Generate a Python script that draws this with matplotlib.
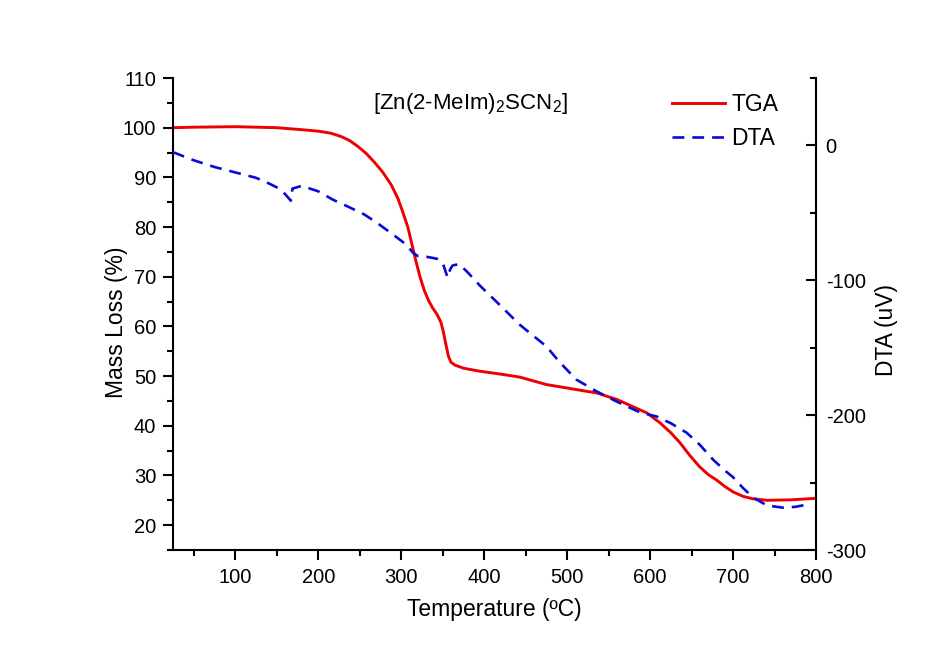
import matplotlib
matplotlib.use("Agg")
import matplotlib.pyplot as plt
from matplotlib.ticker import MultipleLocator

plt.rcParams['font.family'] = ['Liberation Sans', 'DejaVu Sans']
plt.rcParams['mathtext.fontset'] = 'custom'
plt.rcParams['mathtext.rm'] = 'Liberation Sans'
plt.rcParams['mathtext.it'] = 'Liberation Sans'
plt.rcParams['mathtext.default'] = 'regular'
plt.rcParams['axes.unicode_minus'] = False

# TGA data (Mass loss %, left axis)
tga_temp = [25, 50, 100, 150, 180, 200, 215, 228, 238, 248, 258, 268, 278, 288, 296, 302,
            308, 313, 318, 323, 328, 333, 338, 343, 348, 351, 354, 357, 360, 365, 375, 394,
            420, 443, 475, 500, 536, 560, 596, 612, 625, 636, 648, 660, 670, 680, 690, 700,
            712, 724, 741, 770, 800]
tga_mass = [100.0, 100.1, 100.2, 100.0, 99.6, 99.3, 98.9, 98.2, 97.4, 96.2, 94.8, 93.0,
            91.0, 88.5, 85.8, 83.0, 80.0, 76.5, 73.0, 69.8, 67.2, 65.2, 63.7, 62.5, 60.8,
            58.8, 56.3, 54.0, 52.8, 52.2, 51.6, 51.0, 50.4, 49.8, 48.3, 47.6, 46.6, 45.3,
            42.6, 40.6, 38.6, 36.6, 34.0, 31.7, 30.2, 29.1, 27.8, 26.7, 25.8, 25.3, 25.0,
            25.1, 25.4]

# DTA data (uV, right axis)
dta_temp = [25, 50, 75, 100, 125, 140, 153, 160, 167, 169, 180, 200, 217, 238, 255, 270,
            290, 305, 315, 320, 330, 343, 350, 356, 359, 362, 370, 380, 395, 420, 443, 475,
            490, 511, 536, 560, 588, 608, 625, 644, 660, 676, 690, 700, 712, 724, 741, 760,
            775, 792]
dta_val = [-5, -11, -16, -20, -24, -28, -32, -36, -41, -32, -30, -34, -40, -46, -51, -57,
           -66, -73, -80, -82, -82.5, -84, -87, -98, -92, -89, -88, -94, -104, -119, -133,
           -149, -160, -173.6, -182.5, -190, -198, -201, -206, -213, -222, -233, -241,
           -246, -254, -261, -267, -268.6, -268, -266]

W, H = 933, 652
fig = plt.figure(figsize=(W / 100, H / 100), dpi=100)
fig.patch.set_facecolor('white')

x0, x1, ytop, ybot = 173, 816, 78, 550
ax = fig.add_axes([x0 / W, 1 - ybot / H, (x1 - x0) / W, (ybot - ytop) / H])
ax.set_facecolor('none')
ax2 = ax.twinx()

ax.plot(tga_temp, tga_mass, color='#ee0000', lw=2.1, label='TGA')
ax2.plot(dta_temp, dta_val, color='#0a0ad8', lw=1.9, dashes=(4.5, 3.0), label='DTA')

ax.set_xlim(25, 800)
ax.set_ylim(15, 110)
ax2.set_ylim(-300, 50)

ax.xaxis.set_major_locator(MultipleLocator(100))
ax.xaxis.set_minor_locator(MultipleLocator(50))
ax.yaxis.set_major_locator(MultipleLocator(10))
ax.yaxis.set_minor_locator(MultipleLocator(5))
ax2.yaxis.set_major_locator(MultipleLocator(100))
ax2.yaxis.set_minor_locator(MultipleLocator(50))

for a in (ax, ax2):
    a.spines['top'].set_visible(False)
    for s in a.spines.values():
        s.set_linewidth(1.5)

ax.spines['right'].set_visible(False)
ax2.spines['left'].set_visible(False)
ax2.spines['bottom'].set_visible(False)

ax.tick_params(axis='both', which='major', direction='out', length=7, width=1.5,
               labelsize=14.5, pad=5)
ax.tick_params(axis='both', which='minor', direction='out', length=4, width=1.5)
ax.tick_params(axis='x', which='major', pad=6)
ax.tick_params(top=False, right=False, which='both')
ax2.tick_params(axis='y', which='major', direction='in', length=7, width=1.5,
                labelsize=14.5, pad=7)
ax2.tick_params(axis='y', which='minor', direction='in', length=4, width=1.5)

ax.set_xlabel('Temperature (\u00baC)', fontsize=16.5, labelpad=8)
fig.text(116 / W, 1 - 322 / H, 'Mass Loss (%)', fontsize=16.5, rotation=90,
         ha='center', va='center')
fig.text(886 / W, 1 - 330 / H, 'DTA (uV)', fontsize=16.5, rotation=90,
         ha='center', va='center')

fig.text(470 / W, 1 - 104 / H, r'[Zn(2-MeIm)$_2$SCN$_2$]', fontsize=16,
         ha='center', va='center')

h1, l1 = ax.get_legend_handles_labels()
h2, l2 = ax2.get_legend_handles_labels()
leg = ax2.legend(h1 + h2, l1 + l2, loc='upper left',
                 bbox_to_anchor=(672 / W, 1 - 93 / H), bbox_transform=fig.transFigure,
                 frameon=False, fontsize=16.5, handlelength=2.3, handletextpad=0.3,
                 borderpad=0, borderaxespad=0, labelspacing=0.5)

fig.savefig('out.png', dpi=100)
